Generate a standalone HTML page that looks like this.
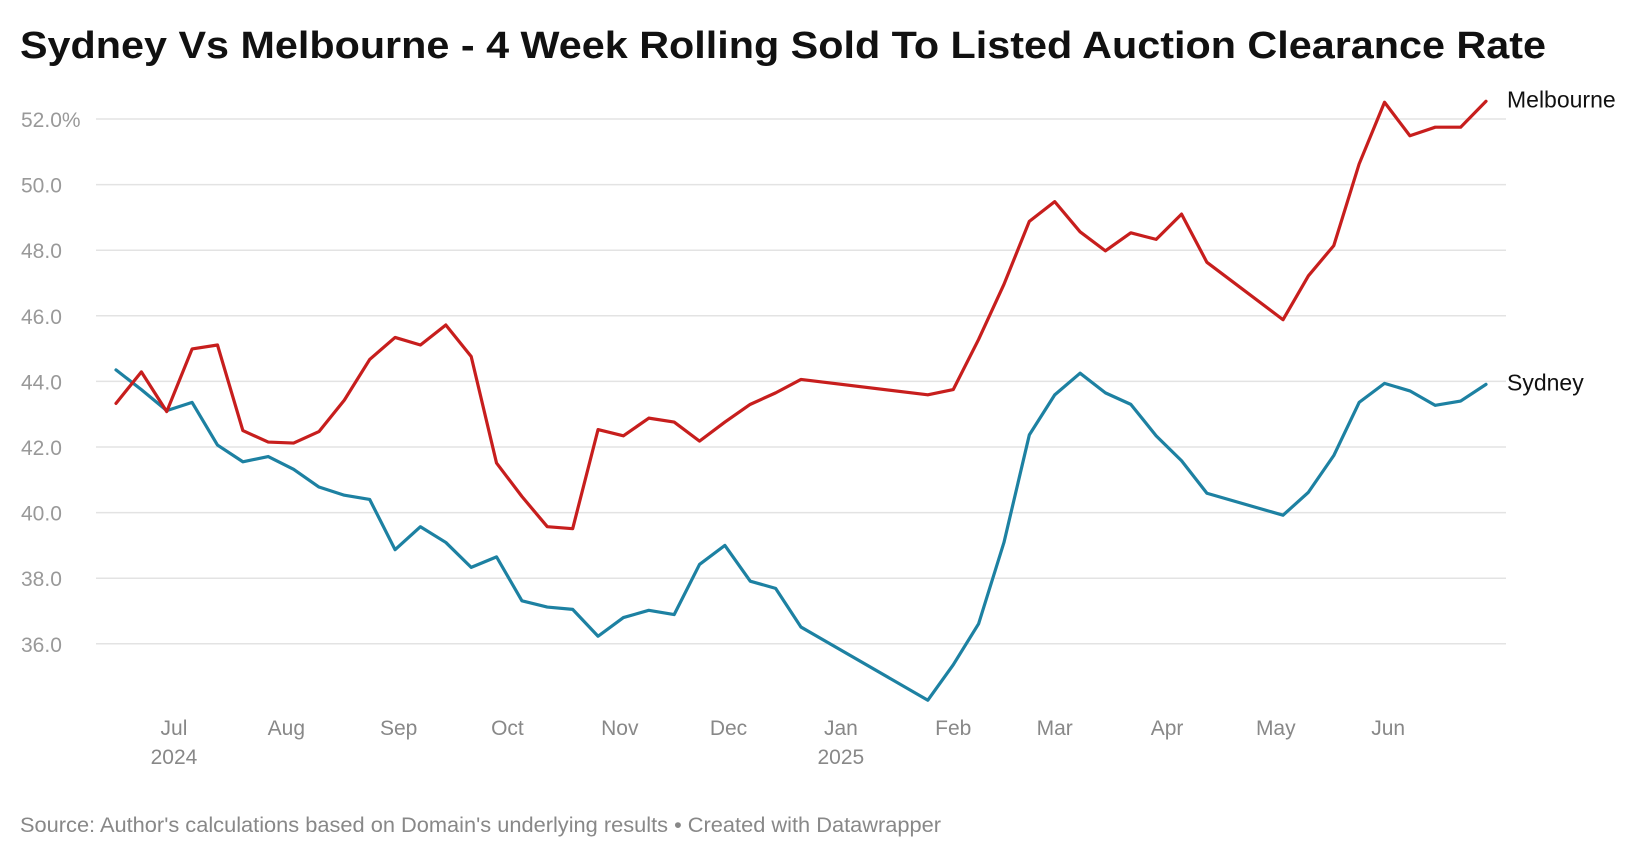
<!DOCTYPE html>
<html><head><meta charset="utf-8"><style>
body{margin:0;background:#fff;width:1640px;height:858px;overflow:hidden;font-family:"Liberation Sans",sans-serif}
</style></head><body>
<svg id="chart" width="1640" height="858" xmlns="http://www.w3.org/2000/svg">
<text x="20" y="58" font-size="38" font-weight="bold" fill="#111" textLength="1526" lengthAdjust="spacingAndGlyphs">Sydney Vs Melbourne - 4 Week Rolling Sold To Listed Auction Clearance Rate</text>
<g id="grid"></g><g id="xaxis"></g><g id="lines"></g>
<text x="20" y="832" font-size="21" fill="#888" textLength="921" lengthAdjust="spacingAndGlyphs">Source: Author's calculations based on Domain's underlying results • Created with Datawrapper</text>
</svg>
<script>
const weekIndex=[0,1,2,3,4,5,6,7,8,9,10,11,12,13,14,15,16,17,18,19,20,21,22,23,24,25,26,27,32,33,34,35,36,37,38,39,40,41,42,43,46,47,48,49,50,51,52,53,54];
const melbourne=[43.33,44.29,43.08,44.99,45.11,42.50,42.15,42.12,42.47,43.43,44.67,45.34,45.11,45.72,44.76,41.51,40.49,39.57,39.51,42.53,42.34,42.88,42.76,42.18,42.76,43.30,43.65,44.06,43.59,43.75,45.28,46.96,48.88,49.48,48.56,47.98,48.53,48.33,49.10,47.63,45.88,47.22,48.14,50.63,52.51,51.49,51.75,51.75,52.54];
const sydney=[44.35,43.75,43.11,43.36,42.06,41.55,41.71,41.32,40.78,40.53,40.40,38.87,39.57,39.09,38.33,38.65,37.31,37.12,37.05,36.23,36.80,37.02,36.89,38.42,39.00,37.91,37.69,36.51,34.28,35.36,36.61,39.09,42.37,43.59,44.25,43.65,43.30,42.34,41.58,40.59,39.92,40.62,41.74,43.36,43.94,43.71,43.27,43.40,43.91];
const yTicks=[36,38,40,42,44,46,48,50,52];
const monthLabels=["Jul","Aug","Sep","Oct","Nov","Dec","Jan","Feb","Mar","Apr","May","Jun"];
const monthDays=[16,47,78,108,139,169,200,231,259,290,320,351]; // days since 2024-06-15
const yearLabels=["2024","2025"];
const NS="http://www.w3.org/2000/svg";
const x=i=>116+i*(1486-116)/54;
const xd=d=>116+d/7*(1486-116)/54;
const y=v=>119+(52-v)*32.8;
function mk(t,a,p,txt){const e=document.createElementNS(NS,t);for(const k in a)e.setAttribute(k,a[k]);if(txt!==undefined)e.textContent=txt;p.appendChild(e);return e;}
const grid=document.getElementById('grid');
yTicks.forEach(v=>{
  const l=mk('line',{x1:96,x2:1506,y1:y(v),y2:y(v),stroke:'#e3e3e3','stroke-width':1.5},grid);
  
  
  const t=mk('text',{x:21,y:y(v)+8,'font-size':21,fill:'#999'},grid,v.toFixed(1)+(v===52?'%':''));
  
  
});
const xa=document.getElementById('xaxis');
monthLabels.forEach((m,i)=>{
  const t=mk('text',{x:xd(monthDays[i]),y:735,'font-size':21,fill:'#888','text-anchor':'middle'},xa,m);
  
  
});
[0,6].forEach((mi,k)=>{
  const t=mk('text',{x:xd(monthDays[mi]),y:764,'font-size':21,fill:'#888','text-anchor':'middle'},xa,yearLabels[k]);
  
  
});
const lg=document.getElementById('lines');
[[sydney,'#1d81a2','Sydney','sydney-line'],[melbourne,'#c71e1d','Melbourne','melbourne-line']].forEach(([s,c,n,dn])=>{
  const p=mk('polyline',{points:s.map((v,i)=>x(weekIndex[i])+','+y(v)).join(' '),fill:'none',stroke:c,'stroke-width':3.2,'stroke-linejoin':'round','stroke-linecap':'round'},lg);
  
  
  const last=s[s.length-1];
  const t=mk('text',{x:1507,y:y(last)+6,'font-size':23,fill:'#111'},lg,n);
  
  
});
</script>
</body></html>
